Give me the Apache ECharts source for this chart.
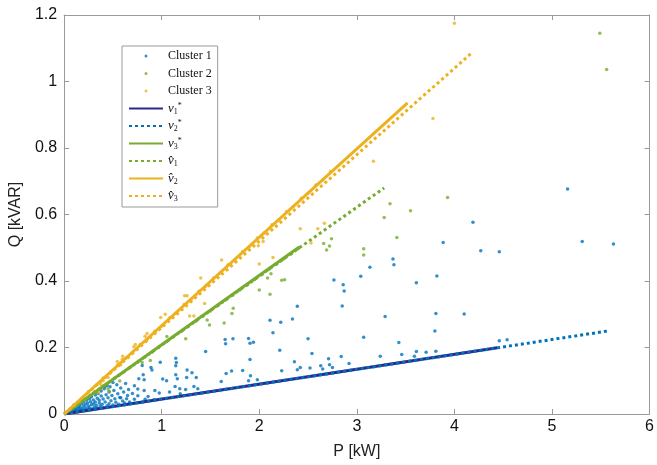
<!DOCTYPE html>
<html><head><meta charset="utf-8">
<script src="https://cdn.jsdelivr.net/npm/echarts@6/dist/echarts.min.js"></script>
<style>html,body{margin:0;padding:0;background:#fff}#c{width:657px;height:465px}</style>
</head><body><div id="c"></div>
<script>
const xTicks = [0,1,2,3,4,5,6];
const yTicks = [0,0.2,0.4,0.6,0.8,1,1.2];

const cluster1 = [
[5.16,0.677],[4.19,0.577],[3.885,0.516],[4.27,0.491],[4.46,0.488],[5.31,0.519],[5.63,0.511],[3.37,0.466],[3.38,0.449],[3.134,0.441],[3.04,0.414],[3.82,0.415],[3.61,0.395],[2.765,0.403],[2.86,0.389],[2.87,0.37],[2.85,0.325],[2.39,0.324],[2.11,0.282],[2.22,0.276],[2.34,0.286],[2.14,0.244],[3.29,0.293],[3.81,0.302],[4.10,0.301],[3.80,0.25],[2.50,0.226],[3.07,0.231],[3.43,0.215],[2.21,0.192],[2.54,0.182],[3.24,0.174],[3.46,0.179],[3.59,0.174],[3.61,0.188],[3.71,0.186],[3.81,0.189],[2.84,0.173],[2.92,0.152],[2.36,0.157],[2.42,0.14],[2.39,0.133],[2.52,0.138],[2.63,0.145],[2.65,0.135],[2.71,0.166],[2.72,0.148],[2.75,0.14],[1.905,0.213],[1.94,0.216],[1.905,0.164],[2.23,0.13],[4.46,0.22],[4.54,0.223],
[1.65,0.224],[1.73,0.226],[1.655,0.211],[1.89,0.227],[1.45,0.188],[1.144,0.168],[1.15,0.155],[1.144,0.145],[0.985,0.156],[0.89,0.14],[0.80,0.146],[0.90,0.132],[0.81,0.118],[0.765,0.106],[0.82,0.103],[1.01,0.105],[1.05,0.1],[1.144,0.118],[1.16,0.106],[1.26,0.132],[1.31,0.124],[1.256,0.11],[1.354,0.11],[1.66,0.122],[1.716,0.129],[1.83,0.131],[1.61,0.098],[1.89,0.1],[1.98,0.103],[1.91,0.115],[0.66,0.074],[0.755,0.075],[0.82,0.071],[0.93,0.071],[0.975,0.063],[1.08,0.066],[1.137,0.083],[1.185,0.076],[1.19,0.061],[1.245,0.074],[1.33,0.083],[1.37,0.076],[0.755,0.055],[0.86,0.053],[0.92,0.043],[0.83,0.044],[0.72,0.044],[0.64,0.046],[0.58,0.049],
[0.05,0.006],[0.06,0.009],[0.08,0.007],[0.09,0.012],[0.1,0.008],[0.11,0.015],[0.12,0.011],[0.13,0.018],[0.14,0.009],[0.15,0.022],[0.15,0.014],[0.16,0.027],[0.17,0.012],[0.17,0.019],[0.18,0.031],[0.19,0.016],[0.2,0.024],[0.2,0.036],[0.21,0.012],[0.22,0.029],[0.22,0.019],[0.23,0.041],[0.24,0.015],[0.24,0.033],[0.25,0.024],[0.26,0.046],[0.26,0.019],[0.27,0.037],[0.28,0.028],[0.28,0.052],[0.29,0.016],[0.3,0.042],[0.3,0.031],[0.31,0.021],[0.32,0.057],[0.32,0.036],[0.33,0.026],[0.34,0.047],[0.34,0.018],[0.35,0.062],[0.36,0.033],[0.36,0.041],[0.37,0.024],[0.38,0.054],[0.38,0.069],[0.39,0.029],[0.4,0.045],[0.4,0.019],[0.41,0.076],[0.42,0.036],[0.43,0.058],[0.44,0.025],[0.45,0.049],[0.46,0.066],[0.46,0.031],[0.47,0.082],[0.48,0.04],[0.49,0.056],[0.5,0.027],[0.51,0.071],[0.52,0.046],[0.53,0.035],[0.54,0.088],[0.55,0.061],[0.56,0.029],[0.57,0.05],[0.58,0.078],[0.6,0.039],[0.61,0.066],[0.62,0.033],[0.63,0.092],[0.65,0.056],[0.67,0.036],[0.7,0.062],[0.72,0.085],[0.5,0.095],[0.44,0.086],[0.33,0.066],[0.27,0.055],[0.42,0.083]
];

const cluster2 = [
[5.49,1.145],[5.56,1.036],[3.34,0.632],[3.93,0.651],[3.55,0.611],[3.28,0.591],[3.41,0.531],[2.74,0.527],[2.66,0.513],[2.72,0.505],[2.69,0.493],[3.07,0.497],[3.07,0.478],[2.23,0.402],[2.26,0.404],[2.0,0.373],[2.11,0.36],[2.085,0.409],[2.12,0.422],[1.466,0.283],[1.49,0.268],[1.733,0.318],[1.72,0.302],[1.64,0.274],[1.246,0.226],[1.053,0.233],[0.883,0.161],[0.80,0.155],[0.57,0.099],[0.45,0.075],[0.464,0.068],
[0.08,0.017],[0.15,0.031],[0.22,0.045],[0.3,0.062],[0.36,0.075],[0.44,0.091],[0.52,0.108],[0.6,0.124],[0.68,0.141],[0.75,0.155],[0.83,0.172],[0.9,0.186],[0.97,0.201],[1.05,0.217],[1.12,0.232],[1.2,0.248],[1.27,0.263],[1.35,0.279],[1.42,0.294],[1.5,0.31],[1.58,0.327],[1.65,0.342],[1.73,0.358],[1.8,0.373],[1.88,0.389],[1.95,0.404],[2.03,0.42],[2.1,0.435],[2.18,0.451],[2.25,0.466],[2.33,0.482],[2.4,0.497]
];

const cluster3 = [
[4.0,1.175],[3.78,0.889],[3.17,0.76],[2.42,0.557],[2.60,0.557],[2.667,0.574],[2.53,0.514],[2.14,0.471],[2.0,0.451],[2.04,0.519],[1.99,0.506],[1.40,0.409],[1.614,0.463],[1.235,0.356],[1.26,0.356],[1.44,0.332],[1.286,0.295],[1.33,0.295],[0.99,0.29],[1.036,0.3],[0.85,0.242],[0.83,0.234],[0.715,0.202],[0.73,0.209],[0.60,0.174],[0.596,0.165],[0.545,0.158],[0.58,0.148],[0.45,0.11],[0.40,0.1],[0.376,0.089],[0.31,0.066],[0.35,0.064],
[0.1,0.028],[0.18,0.046],[0.25,0.068],[0.33,0.087],[0.4,0.108],[0.48,0.127],[0.55,0.148],[0.63,0.168],[0.7,0.185],[0.78,0.209],[0.85,0.224],[0.93,0.249],[1.0,0.265],[1.08,0.289],[1.15,0.304],[1.23,0.329],[1.3,0.344],[1.38,0.369],[1.45,0.384],[1.53,0.409],[1.6,0.424],[1.68,0.449],[1.75,0.464],[1.83,0.489],[1.9,0.504],[1.98,0.529],[2.05,0.544],[2.13,0.569],[2.2,0.584],[2.28,0.609],[2.35,0.624],[2.43,0.649],[2.5,0.664],[2.58,0.689],[2.65,0.704],[2.73,0.729]
];

const lineV1star = [[0,0],[4.44,0.199]];
const lineV2star = [[0,0],[5.58,0.25]];
const lineV3star = [[0,0],[2.41,0.502]];
const lineV1hat  = [[0,0],[3.28,0.68]];
const lineV2hat  = [[0,0],[3.52,0.936]];
const lineV3hat  = [[0,0],[4.17,1.084]];

const seriesNames = ['Cluster 1','Cluster 2','Cluster 3','v₁*','v₂*','v₃*','v̂₁','v̂₂','v̂₃'];

const BLUE='#0072BD', ORANGE='#EDB120', GREEN='#77AC30', NAVY='#2B2A8C';
const AX='#9a9a9a';

const chart = echarts.init(document.getElementById('c'), null, {renderer:'canvas'});

function scatter(name, data, color){
  return {name, type:'scatter', data, symbolSize:3.5, itemStyle:{color}, xAxisIndex:0, yAxisIndex:0, silent:true, z:2};
}
function line(name, data, color, dotted){
  return {name, type:'line', data, symbol:'none', showSymbol:false, xAxisIndex:0, yAxisIndex:0,
    lineStyle:{color, width:3, type: dotted ? [3,3] : 'solid'}, itemStyle:{color}, z:3, silent:true, animation:false};
}
const subMap = {'₁':'1','₂':'2','₃':'3'};
function fmt(name){
  if (name.startsWith('Cluster')) return '{t|' + name + '}';
  const hat = name.indexOf('\u0302') >= 0;
  const ch = name.replace('*','').slice(-1);
  const sub = subMap[ch];
  const star = name.indexOf('*') >= 0;
  return (hat ? '{m|v\u0302}' : '{m|v}') + '{s|' + sub + '}' + (star ? '{p|*}' : '');
}

const option = {
  animation:false,
  backgroundColor:'#fff',
  grid:{left:62, right:4, top:15, bottom:44, containLabel:false},
  xAxis:[
    {type:'value', min:0, max:6, interval:1, position:'bottom',
     name:'P [kW]', nameLocation:'middle', nameGap:30,
     nameTextStyle:{fontFamily:'Liberation Sans', fontSize:16, color:'#222'},
     axisLine:{onZero:false, lineStyle:{color:AX, width:1}},
     axisTick:{inside:true, length:5, lineStyle:{color:AX}},
     axisLabel:{fontFamily:'Liberation Sans', fontSize:16, color:'#111', margin:5},
     splitLine:{show:false}},
    {type:'value', min:0, max:6, interval:1, position:'top',
     axisLine:{onZero:false, lineStyle:{color:AX, width:1}},
     axisTick:{inside:true, length:5, lineStyle:{color:AX}},
     axisLabel:{show:false}, splitLine:{show:false}}
  ],
  yAxis:[
    {type:'value', min:0, max:1.2, interval:0.2, position:'left',
     name:'Q [kVAR]', nameLocation:'middle', nameGap:34,
     nameTextStyle:{fontFamily:'Liberation Sans', fontSize:16, color:'#222'},
     axisLine:{onZero:false, lineStyle:{color:AX, width:1}},
     axisTick:{inside:true, length:5, lineStyle:{color:AX}},
     axisLabel:{fontFamily:'Liberation Sans', fontSize:16, color:'#111', margin:7,
       formatter:v=>String(Math.round(v*10)/10)},
     splitLine:{show:false}},
    {type:'value', min:0, max:1.2, interval:0.2, position:'right',
     axisLine:{onZero:false, lineStyle:{color:AX, width:1}},
     axisTick:{inside:true, length:5, lineStyle:{color:AX}},
     axisLabel:{show:false}, splitLine:{show:false}}
  ],
  legend:{
    orient:'vertical', left:122, top:46,
    backgroundColor:'#fff', borderColor:'#9a9a9a', borderWidth:1,
    padding:[3,6,4,6], itemGap:3.5, itemWidth:34, itemHeight:3,
    selectedMode:false,
    data: seriesNames.map((n,i)=> i<3 ? {name:n, icon:'circle'} : {name:n, itemStyle:{opacity:0}}),
    formatter: fmt,
    textStyle:{
      lineHeight:14,
      rich:{
        t:{fontFamily:'Liberation Serif', fontSize:12, color:'#111', lineHeight:14},
        m:{fontFamily:'Liberation Serif', fontStyle:'italic', fontSize:13, color:'#111', lineHeight:14},
        s:{fontFamily:'Liberation Serif', fontSize:8, color:'#111', lineHeight:14, verticalAlign:'bottom', padding:[4,0,0,0]},
        p:{fontFamily:'Liberation Serif', fontSize:8, color:'#111', lineHeight:14, verticalAlign:'top'}
      }
    }
  },
  series:[
    scatter(seriesNames[0], cluster1, BLUE),
    scatter(seriesNames[1], cluster2, GREEN),
    scatter(seriesNames[2], cluster3, ORANGE),
    line(seriesNames[3], lineV1star, NAVY, false),
    line(seriesNames[4], lineV2star, BLUE, true),
    line(seriesNames[5], lineV3star, GREEN, false),
    line(seriesNames[6], lineV1hat, GREEN, true),
    line(seriesNames[7], lineV2hat, ORANGE, false),
    line(seriesNames[8], lineV3hat, ORANGE, true)
  ]
};
chart.setOption(option);
</script>
</body></html>
